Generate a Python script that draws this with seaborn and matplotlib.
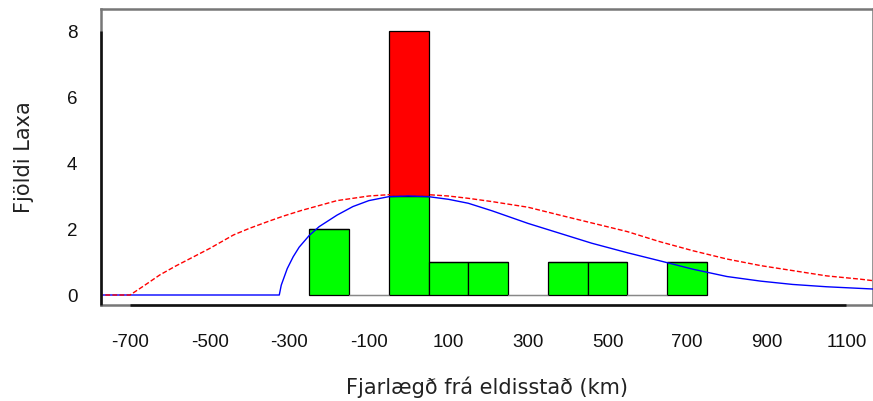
import matplotlib
matplotlib.use("Agg")
import matplotlib.pyplot as plt
import seaborn as sns
import pandas as pd

# ---- data ----
bin_centers = [-200, -100, 0, 100, 200, 300, 400, 500, 600, 700]
green_counts = [2, 0, 3, 1, 1, 0, 1, 1, 0, 1]
red_counts = [0, 0, 5, 0, 0, 0, 0, 0, 0, 0]

blue_x = [-780, -325, -320, -305, -290, -275, -250, -225, -180, -140, -100, -50,
          0, 50, 100, 150, 210, 300, 380, 460, 550, 630, 715, 800, 885, 965,
          1050, 1135, 1170]
blue_y = [0, 0, 0.3, 0.8, 1.16, 1.45, 1.8, 2.07, 2.42, 2.68, 2.86, 2.98,
          3.0, 2.98, 2.9, 2.78, 2.55, 2.17, 1.87, 1.57, 1.28, 1.04, 0.78, 0.56,
          0.42, 0.32, 0.25, 0.2, 0.18]

red_x = [-780, -700, -665, -625, -585, -540, -500, -440, -400, -355, -315, -270,
         -180, -100, -50, 0, 50, 100, 150, 210, 300, 380, 465, 550, 630, 715,
         800, 885, 965, 1050, 1135, 1170]
red_y = [0, 0, 0.28, 0.61, 0.88, 1.16, 1.41, 1.82, 2.02, 2.22, 2.39, 2.56,
         2.86, 3.0, 3.04, 3.05, 3.04, 3.0, 2.93, 2.83, 2.66, 2.42, 2.17, 1.92,
         1.62, 1.34, 1.09, 0.89, 0.74, 0.58, 0.48, 0.43]

x_ticks = [-700, -500, -300, -100, 100, 300, 500, 700, 900, 1100]
y_ticks = [0, 2, 4, 6, 8]
x_label = "Fjarlægð frá eldisstað (km)"
y_label = "Fjöldi Laxa"

# ---- style ----
sns.set_style("white")
plt.rcParams["font.family"] = ["Liberation Sans", "DejaVu Sans"]

fig = plt.figure(figsize=(8.73, 4.01), dpi=100)
ax = fig.add_axes([101 / 873, 96 / 401, 772 / 873, 296 / 401])

df = pd.DataFrame({
    "center": bin_centers * 2,
    "count": green_counts + red_counts,
    "group": ["green"] * len(bin_centers) + ["red"] * len(bin_centers),
})

# seaborn stacks the first hue level on top
sns.histplot(data=df, x="center", weights="count", hue="group",
             hue_order=["red", "green"], multiple="stack",
             binwidth=100, binrange=(-250, 750),
             palette={"green": "#00ff00", "red": "#ff0000"},
             alpha=1, edgecolor="black", linewidth=0.9, legend=False, ax=ax)

for p in ax.patches:
    if p.get_height() == 0 and p.get_y() == 0:
        p.set_edgecolor("#888888")

ax.plot(blue_x, blue_y, color="#0000ff", lw=1.0, zorder=5)
ax.plot(red_x, red_y, color="#ff0000", lw=1.0, dashes=(3.5, 1.6), zorder=6)

ax.set_xlim(-773, 1167)
ax.set_ylim(-0.303, 8.667)
ax.set_xticks(x_ticks)
ax.set_xticklabels([str(v) for v in x_ticks])
ax.set_yticks(y_ticks)
ax.set_yticklabels([str(v) for v in y_ticks])
ax.tick_params(axis="both", length=0, labelsize=13.5, colors="#111111")
ax.tick_params(axis="y", pad=17)
ax.tick_params(axis="x", pad=21)

ax.set_xlabel(x_label, fontsize=15, color="#222222", labelpad=18,
              family=["DejaVu Sans"])
ax.set_ylabel(y_label, fontsize=15, color="#222222", labelpad=24,
              family=["DejaVu Sans"])

for s in ax.spines.values():
    s.set_visible(True)
    s.set_color("#777777")
    s.set_linewidth(1.8)

# darker axis lines spanning the tick range (R-style)
ax.plot([-700, 1100], [-0.303, -0.303], color="#111111", lw=1.8,
        clip_on=False, zorder=10, solid_capstyle="butt")
ax.plot([-773, -773], [-0.303, 8.0], color="#111111", lw=1.8,
        clip_on=False, zorder=10, solid_capstyle="butt")

fig.savefig("out.png", dpi=100)
